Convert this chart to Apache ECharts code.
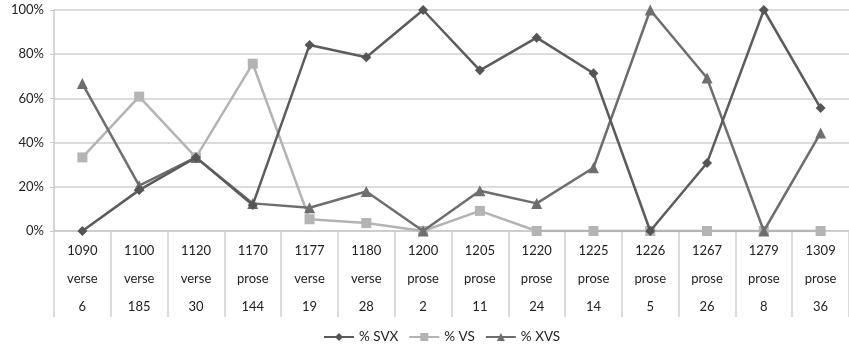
<!DOCTYPE html>
<html>
<head>
<meta charset="utf-8">
<script src="https://cdn.jsdelivr.net/npm/echarts@6/dist/echarts.min.js"></script>
<style>
  html, body { margin: 0; padding: 0; background: #fff; }
  #chart { width: 849px; height: 351px; }
</style>
</head>
<body>
<div id="chart"></div>
<script>
// categories: year / genre / n
const years = ['1090', '1100', '1120', '1170', '1177', '1180', '1200', '1205', '1220', '1225', '1226', '1267', '1279', '1309']
const genres = ['verse', 'verse', 'verse', 'prose', 'verse', 'verse', 'prose', 'prose', 'prose', 'prose', 'prose', 'prose', 'prose', 'prose']
const counts = ['6', '185', '30', '144', '19', '28', '2', '11', '24', '14', '5', '26', '8', '36']

const svx = [0, 18.5, 33.3, 11.8, 84.2, 78.6, 100, 72.7, 87.5, 71.4, 0, 30.8, 100, 55.6]
const vs = [33.3, 60.8, 33.3, 75.7, 5.3, 3.6, 0, 9.1, 0, 0, 0, 0, 0, 0]
const xvs = [66.7, 20.5, 33.3, 12.5, 10.5, 17.9, 0, 18.2, 12.5, 28.6, 100, 69.2, 0, 44.4]

const fontFamily = 'Lato, "Liberation Sans", sans-serif'
const chart = echarts.init(document.getElementById('chart'))

const option = {
  animation: false,
  textStyle: { fontFamily: fontFamily },
  grid: {
    left: 54,
    width: 798,
    top: 10,
    bottom: 120
  },
  legend: {
    bottom: 2,
    left: 318,
    itemWidth: 30,
    itemHeight: 10,
    itemGap: 10,
    textStyle: { fontSize: 13.5, color: '#222', fontFamily: fontFamily },
    data: ['% SVX', '% VS', '% XVS']
  },
  xAxis: {
    type: 'category',
    boundaryGap: true,
    data: years.map((y, i) => y + '\n' + genres[i] + '\n' + counts[i]),
    axisLine: { lineStyle: { color: '#c8c8c8', width: 1.5 } },
    axisTick: { show: true, length: 86, lineStyle: { color: '#cfcfcf', width: 1.5 } },
    axisLabel: {
      margin: 6,
      lineHeight: 28,
      fontSize: 13,
      color: '#222',
      interval: 0
    }
  },
  yAxis: {
    type: 'value',
    min: 0,
    max: 100,
    interval: 20,
    axisLine: { show: true, lineStyle: { color: '#c8c8c8', width: 1.5 } },
    axisTick: { show: true, length: 4, lineStyle: { color: '#c8c8c8' } },
    splitLine: { lineStyle: { color: '#d0d0d0', width: 1.5 } },
    axisLabel: {
      formatter: '{value}%',
      fontSize: 13,
      color: '#222',
      margin: 10
    }
  },
  series: [
    {
      name: '% VS',
      type: 'line',
      data: vs,
      symbol: 'rect',
      symbolSize: 10,
      itemStyle: { color: '#b4b4b4' },
      lineStyle: { color: '#b4b4b4', width: 2.5 },
      z: 2
    },
    {
      name: '% XVS',
      type: 'line',
      data: xvs,
      symbol: 'triangle',
      symbolSize: 11,
      itemStyle: { color: '#6e6e6e' },
      lineStyle: { color: '#6e6e6e', width: 2.5 },
      z: 3
    },
    {
      name: '% SVX',
      type: 'line',
      data: svx,
      symbol: 'diamond',
      symbolSize: 10,
      itemStyle: { color: '#555555' },
      lineStyle: { color: '#5c5c5c', width: 2.5 },
      z: 4
    }
  ]
}

chart.setOption(option)
</script>
</body>
</html>
